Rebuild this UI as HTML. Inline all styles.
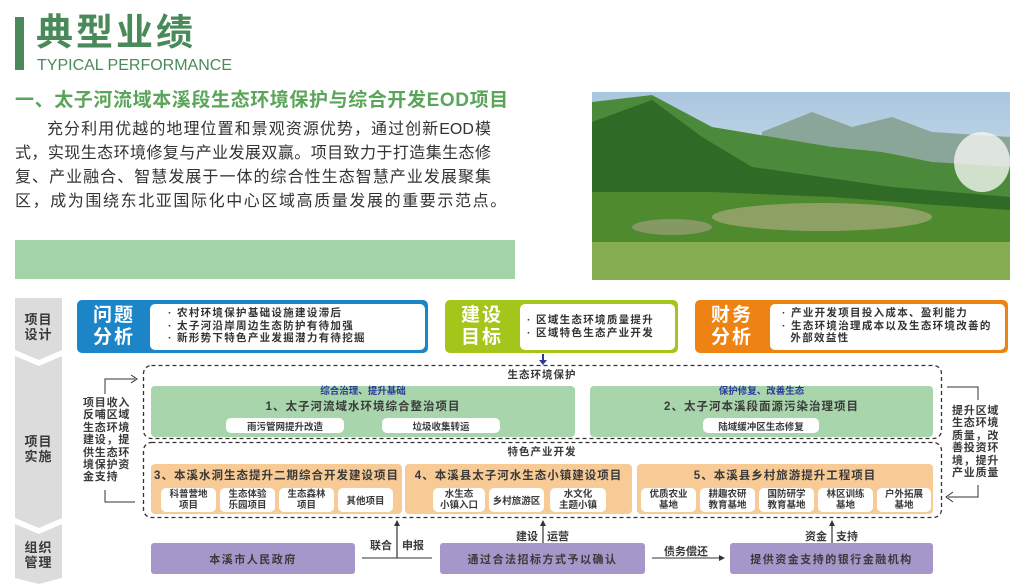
<!DOCTYPE html>
<html><head><meta charset="utf-8"><style>
*{margin:0;padding:0;box-sizing:border-box}
body{width:1024px;height:584px;background:#fff;position:relative;overflow:hidden;font-family:"Liberation Sans","Noto Sans CJK SC",sans-serif;color:#333}
.a{position:absolute}
.c{display:flex;align-items:center;justify-content:center;text-align:center}
.w{background:#fff;border-radius:5px}
.t{font-weight:bold;color:#3a3a3a}
.p div{white-space:nowrap;text-align:justify;text-align-last:justify;height:24px}
</style></head><body>
<div class="a" style="left:15px;top:17px;width:9px;height:53px;background:#4a8a5a"></div>
<div class="a" style="left:36px;top:11px;font-size:37px;font-weight:bold;color:#4a8a5a;letter-spacing:3px;line-height:44px">典型业绩</div>
<div class="a" style="left:37px;top:57px;font-size:16px;color:#4a8a5a;line-height:18px">TYPICAL PERFORMANCE</div>
<div class="a" style="left:15px;top:89px;font-size:19px;font-weight:bold;color:#5aa55a;line-height:24px;letter-spacing:0.6px">一、太子河流域本溪段生态环境保护与综合开发EOD项目</div>
<div class="a p" style="left:15px;top:118px;width:476px;font-size:16px;line-height:24px;color:#333">
<div style="padding-left:32px">充分利用优越的地理位置和景观资源优势，通过创新EOD模</div>
<div>式，实现生态环境修复与产业发展双赢。项目致力于打造集生态修</div>
<div>复、产业融合、智慧发展于一体的综合性生态智慧产业发展聚集</div>
<div style="text-align-last:left;letter-spacing:1.6px">区，成为围绕东北亚国际化中心区域高质量发展的重要示范点。</div>
</div>
<div class="a" style="left:15px;top:240px;width:500px;height:39px;background:#a3d4a8"></div>
<svg class="a" style="left:592px;top:92px" width="418" height="188" viewBox="0 0 418 188">
<defs><linearGradient id="sk" x1="0" y1="0" x2="0" y2="1"><stop offset="0" stop-color="#a9c6df"/><stop offset="1" stop-color="#eef2f2"/></linearGradient></defs>
<rect width="418" height="188" fill="url(#sk)"/>
<path d="M170 40 L220 20 L260 35 L300 25 L340 40 L418 45 L418 120 L170 120Z" fill="#8aa698"/>
<path d="M0 10 L60 3 L120 35 L180 45 L240 55 L290 60 L340 70 L418 75 L418 188 L0 188Z" fill="#4a8a3a"/>
<path d="M0 30 L60 8 L110 45 L160 75 L230 85 L300 95 L418 105 L418 188 L0 188Z" fill="#2f6a26"/>
<path d="M0 100 L120 100 L240 105 L330 112 L418 118 L418 188 L0 188Z" fill="#4f8a2e"/>
<path d="M0 150 L418 150 L418 188 L0 188Z" fill="#86ad52"/>
<ellipse cx="230" cy="125" rx="110" ry="14" fill="#b9b08a" opacity=".6"/>
<ellipse cx="80" cy="135" rx="40" ry="8" fill="#a8a488" opacity=".6"/>
<ellipse cx="390" cy="70" rx="28" ry="30" fill="#f2f5f0" opacity=".8"/>
</svg>

<svg class="a" style="left:15px;top:298px" width="48" height="286">
<path d="M0 0 L47 0 L47 52 L24 62 L0 52Z" fill="#dcdcdc"/>
<path d="M0 58 L24 68 L47 58 L47 220 L24 230 L0 220Z" fill="#dcdcdc"/>
<path d="M0 226 L24 236 L47 226 L47 280 L24 286 L0 280Z" fill="#dcdcdc"/>
</svg>
<div class="a t c" style="left:15px;top:312px;width:47px;font-size:13px;line-height:15px;letter-spacing:1px">项目<br>设计</div>
<div class="a t c" style="left:15px;top:434px;width:47px;font-size:13px;line-height:15px;letter-spacing:1px">项目<br>实施</div>
<div class="a t c" style="left:15px;top:540px;width:47px;font-size:13px;line-height:15px;letter-spacing:1px">组织<br>管理</div>

<div class="a" style="left:77px;top:300px;width:351px;height:53px;background:#1c85c8;border-radius:5px"></div>
<div class="a c" style="left:80px;top:303px;width:68px;height:47px;color:#fff;font-size:19px;font-weight:bold;line-height:22px;letter-spacing:2px">问题<br>分析</div>
<div class="a w" style="left:150px;top:304px;width:275px;height:46px;padding:3px 0 0 18px;font-size:10.5px;line-height:12.5px;font-weight:bold;color:#333;letter-spacing:1.3px">· 农村环境保护基础设施建设滞后<br>· 太子河沿岸周边生态防护有待加强<br>· 新形势下特色产业发掘潜力有待挖掘</div>
<div class="a" style="left:445px;top:300px;width:233px;height:53px;background:#a4c51a;border-radius:5px"></div>
<div class="a c" style="left:448px;top:303px;width:68px;height:47px;color:#fff;font-size:19px;font-weight:bold;line-height:22px;letter-spacing:2px">建设<br>目标</div>
<div class="a w" style="left:520px;top:304px;width:155px;height:46px;padding:10px 0 0 7px;font-size:10.5px;line-height:13px;font-weight:bold;color:#333;letter-spacing:1.3px">· 区域生态环境质量提升<br>· 区域特色生态产业开发</div>
<div class="a" style="left:695px;top:300px;width:313px;height:53px;background:#ee8313;border-radius:5px"></div>
<div class="a c" style="left:697px;top:303px;width:70px;height:47px;color:#fff;font-size:19px;font-weight:bold;line-height:22px;letter-spacing:2px">财务<br>分析</div>
<div class="a w" style="left:770px;top:304px;width:235px;height:46px;padding:3px 0 0 12px;font-size:10.5px;line-height:12.5px;font-weight:bold;color:#333;letter-spacing:1.3px">· 产业开发项目投入成本、盈利能力<br>· 生态环境治理成本以及生态环境改善的<br>&nbsp;&nbsp;外部效益性</div>

<svg class="a" style="left:0;top:0" width="1024" height="584">
<path d="M543 354 V362" stroke="#2a3a9a" stroke-width="2"/><path d="M539 360 L547 360 L543 365Z" fill="#2a3a9a"/>
<rect x="143.5" y="365.5" width="798" height="73" rx="8" fill="none" stroke="#333" stroke-width="1.3" stroke-dasharray="4 3"/>
<rect x="143.5" y="442.5" width="798" height="75" rx="8" fill="none" stroke="#333" stroke-width="1.3" stroke-dasharray="4 3"/>
<path d="M105 394 V379 H135" fill="none" stroke="#333" stroke-width="1"/><path d="M131 375 L137 379 L131 383" fill="none" stroke="#333"/>
<path d="M105 490 V502 H135" fill="none" stroke="#333" stroke-width="1"/>
<path d="M947 387 H978 V400" fill="none" stroke="#333" stroke-width="1"/>
<path d="M978 485 V497 H948" fill="none" stroke="#333" stroke-width="1"/><path d="M953 492 L946 497 L953 502" fill="none" stroke="#333"/>
<path d="M397 558 V524" stroke="#333" stroke-width="1.2"/><path d="M394 526 L397 520 L400 526Z" fill="#333"/>
<path d="M362 558 H432" stroke="#333" stroke-width="1"/>
<path d="M543 543 V524" stroke="#333" stroke-width="1.2"/><path d="M540 526 L543 520 L546 526Z" fill="#333"/>
<path d="M832 543 V524" stroke="#333" stroke-width="1.2"/><path d="M829 526 L832 520 L835 526Z" fill="#333"/>
<path d="M652 558 H722" stroke="#333" stroke-width="1"/><path d="M719 555 L725 558 L719 561Z" fill="#333"/>
</svg>
<div class="a t" style="left:83px;top:397px;font-size:11px;line-height:12.4px;letter-spacing:0.8px">项目收入<br>反哺区域<br>生态环境<br>建设，提<br>供生态环<br>境保护资<br>金支持</div>
<div class="a t" style="left:952px;top:405px;font-size:11px;line-height:12.4px;letter-spacing:0.8px">提升区域<br>生态环境<br>质量，改<br>善投资环<br>境，提升<br>产业质量</div>

<div class="a t" style="left:143px;top:369px;width:798px;text-align:center;font-size:10.5px;line-height:13px;letter-spacing:1px">生态环境保护</div>
<div class="a" style="left:151px;top:386px;width:424px;height:51px;background:#a8d5ab;border-radius:4px"></div>
<div class="a" style="left:151px;top:386px;width:424px;text-align:center;font-size:9.5px;line-height:12px;font-weight:bold;color:#2a3a9a">综合治理、提升基础</div>
<div class="a t" style="left:151px;top:400px;width:424px;text-align:center;font-size:11.5px;line-height:14px;letter-spacing:1px">1、太子河流域水环境综合整治项目</div>
<div class="a w c t" style="left:226px;top:418px;width:118px;height:15px;font-size:9.5px">雨污管网提升改造</div>
<div class="a w c t" style="left:382px;top:418px;width:118px;height:15px;font-size:9.5px">垃圾收集转运</div>
<div class="a" style="left:590px;top:386px;width:343px;height:51px;background:#a8d5ab;border-radius:4px"></div>
<div class="a" style="left:590px;top:386px;width:343px;text-align:center;font-size:9.5px;line-height:12px;font-weight:bold;color:#2a3a9a">保护修复、改善生态</div>
<div class="a t" style="left:590px;top:400px;width:343px;text-align:center;font-size:11.5px;line-height:14px;letter-spacing:1px">2、太子河本溪段面源污染治理项目</div>
<div class="a w c t" style="left:703px;top:418px;width:116px;height:15px;font-size:9.5px">陆域缓冲区生态修复</div>

<div class="a t" style="left:143px;top:446px;width:798px;text-align:center;font-size:10.5px;line-height:13px;letter-spacing:1px">特色产业开发</div>
<div class="a" style="left:151px;top:464px;width:251px;height:50px;background:#f8cb96;border-radius:4px"></div>
<div class="a t" style="left:151px;top:469px;width:251px;text-align:center;font-size:11.5px;line-height:14px;letter-spacing:1px">3、本溪水洞生态提升二期综合开发建设项目</div>
<div class="a w c t" style="left:161px;top:488px;width:55px;height:24px;font-size:9.5px;line-height:11px">科普营地<br>项目</div>
<div class="a w c t" style="left:220px;top:488px;width:55px;height:24px;font-size:9.5px;line-height:11px">生态体验<br>乐园项目</div>
<div class="a w c t" style="left:279px;top:488px;width:55px;height:24px;font-size:9.5px;line-height:11px">生态森林<br>项目</div>
<div class="a w c t" style="left:338px;top:488px;width:55px;height:24px;font-size:9.5px">其他项目</div>
<div class="a" style="left:405px;top:464px;width:227px;height:50px;background:#f8cb96;border-radius:4px"></div>
<div class="a t" style="left:405px;top:469px;width:227px;text-align:center;font-size:11.5px;line-height:14px;letter-spacing:1px">4、本溪县太子河水生态小镇建设项目</div>
<div class="a w c t" style="left:433px;top:488px;width:52px;height:24px;font-size:9.5px;line-height:11px">水生态<br>小镇入口</div>
<div class="a w c t" style="left:489px;top:488px;width:55px;height:24px;font-size:9.5px">乡村旅游区</div>
<div class="a w c t" style="left:550px;top:488px;width:56px;height:24px;font-size:9.5px;line-height:11px">水文化<br>主题小镇</div>
<div class="a" style="left:637px;top:464px;width:296px;height:50px;background:#f8cb96;border-radius:4px"></div>
<div class="a t" style="left:637px;top:469px;width:296px;text-align:center;font-size:11.5px;line-height:14px;letter-spacing:1px">5、本溪县乡村旅游提升工程项目</div>
<div class="a w c t" style="left:641px;top:488px;width:55px;height:24px;font-size:9.5px;line-height:11px">优质农业<br>基地</div>
<div class="a w c t" style="left:700px;top:488px;width:55px;height:24px;font-size:9.5px;line-height:11px">耕趣农研<br>教育基地</div>
<div class="a w c t" style="left:759px;top:488px;width:55px;height:24px;font-size:9.5px;line-height:11px">国防研学<br>教育基地</div>
<div class="a w c t" style="left:818px;top:488px;width:55px;height:24px;font-size:9.5px;line-height:11px">林区训练<br>基地</div>
<div class="a w c t" style="left:877px;top:488px;width:54px;height:24px;font-size:9.5px;line-height:11px">户外拓展<br>基地</div>

<div class="a c t" style="left:151px;top:543px;width:204px;height:31px;background:#a597c9;border-radius:3px;font-size:11px;letter-spacing:1.5px">本溪市人民政府</div>
<div class="a c t" style="left:440px;top:543px;width:205px;height:31px;background:#a597c9;border-radius:3px;font-size:11px;letter-spacing:1.5px">通过合法招标方式予以确认</div>
<div class="a c t" style="left:730px;top:543px;width:203px;height:31px;background:#a597c9;border-radius:3px;font-size:11px;letter-spacing:1.5px">提供资金支持的银行金融机构</div>
<div class="a t" style="left:370px;top:537px;font-size:11px">联合</div>
<div class="a t" style="left:402px;top:537px;font-size:11px">申报</div>
<div class="a t" style="left:516px;top:528px;font-size:11px">建设</div>
<div class="a t" style="left:547px;top:528px;font-size:11px">运营</div>
<div class="a t" style="left:805px;top:528px;font-size:11px">资金</div>
<div class="a t" style="left:836px;top:528px;font-size:11px">支持</div>
<div class="a t" style="left:664px;top:543px;font-size:11px">债务偿还</div>
</body></html>
